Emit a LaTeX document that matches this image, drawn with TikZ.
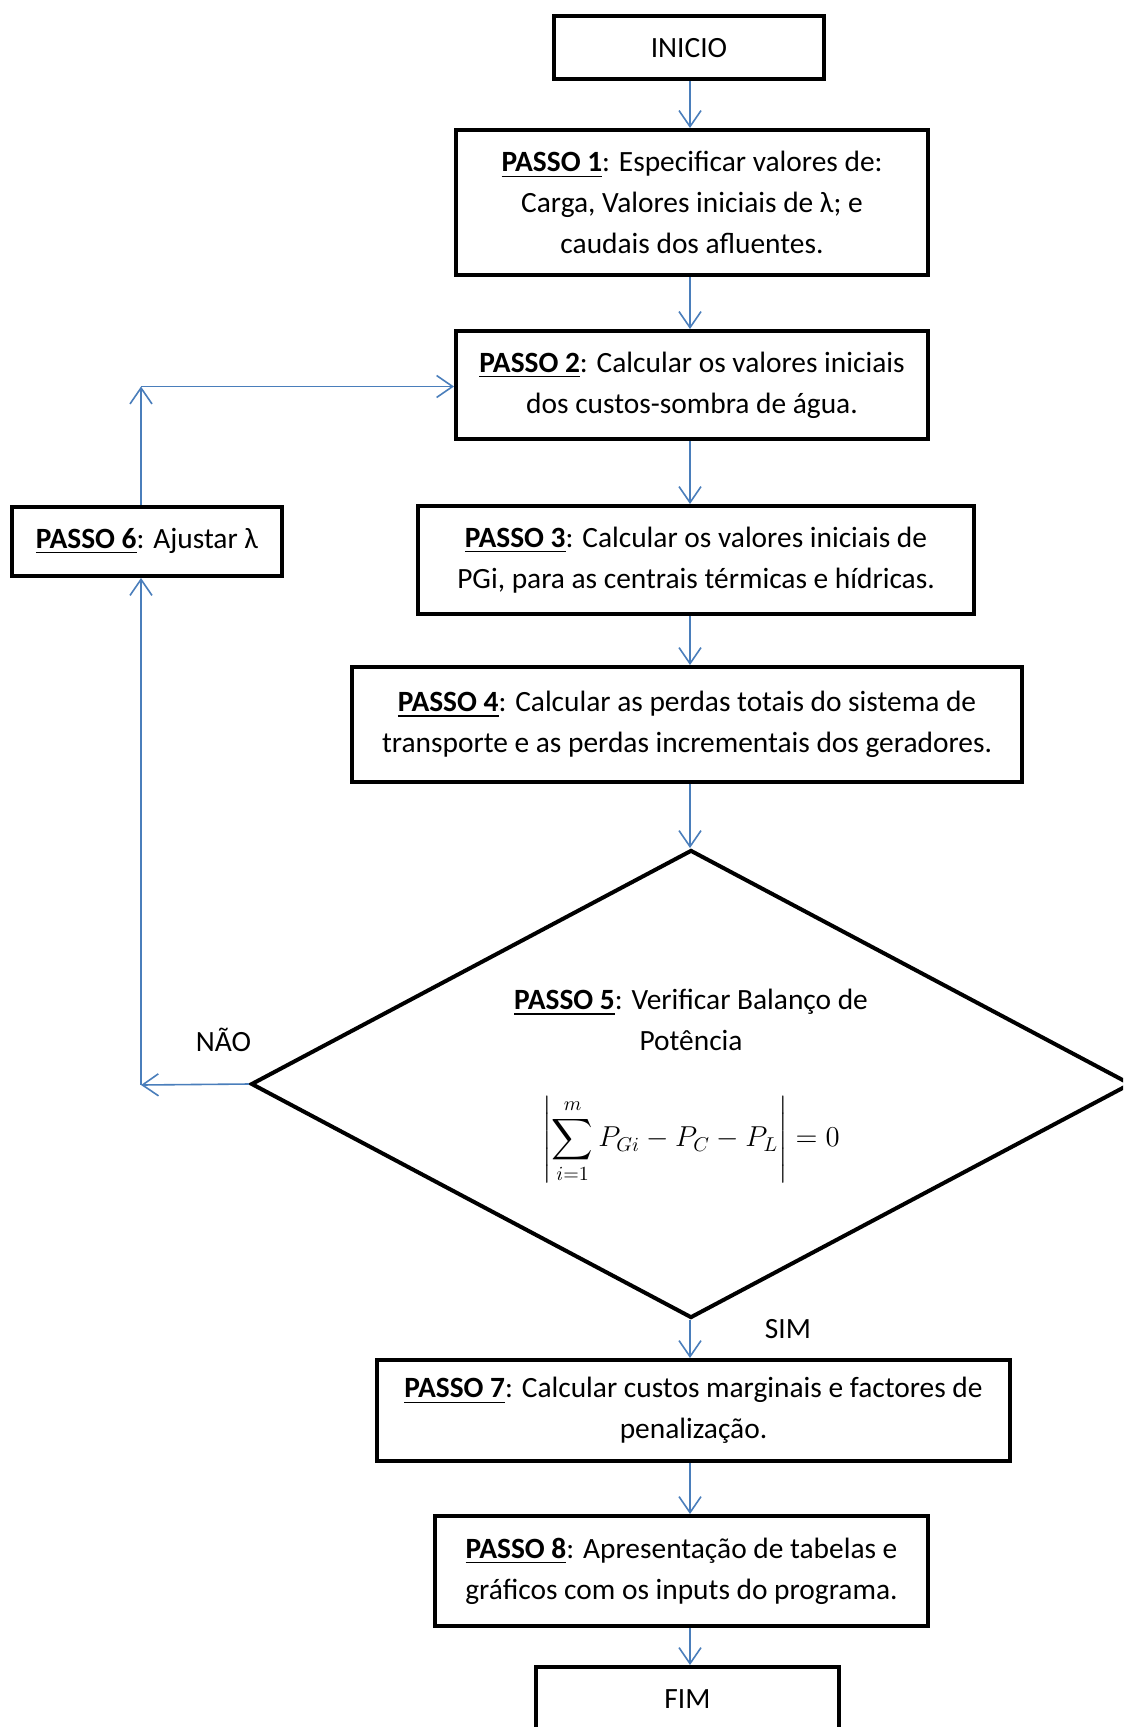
\RequirePackage{fix-cm}
\documentclass[tikz,border=0pt]{standalone}
\usepackage{exscale}
\usepackage{fontspec}
\setmainfont{Carlito}
\usetikzlibrary{arrows.meta,shapes.geometric}
\definecolor{arrowblue}{RGB}{74,126,187}
\tikzset{
  box/.style={draw=black, line width=2pt, rectangle, inner sep=0pt, align=center,
    font=\fontsize{14.7}{20.35}\selectfont},
  lbl/.style={inner sep=0pt, align=center, font=\fontsize{14.7}{20.35}\selectfont},
  arr/.style={draw=arrowblue, line width=0.8pt, -{Straight Barb[length=8pt,width=11pt]}},
}
\newcommand{\passo}[1]{\underline{\textbf{PASSO #1}}}
\begin{document}
\begin{tikzpicture}[x=0.5pt,y=-0.5pt]
\useasboundingbox (0,0) rectangle (1123,1727);
\clip (0,0) rectangle (1123,1727);
\coordinate (axis) at (690,0);
\node[box, minimum width=135pt, minimum height=31.25pt] (inicio) at (689,47.75) {INICIO};
\node[box, minimum width=236pt, minimum height=72.5pt] (p1) at (692,202.5)
  {\passo{1}: Especificar valores de:\\ Carga, Valores iniciais de λ; e\\ caudais dos afluentes.};
\node[box, minimum width=236pt, minimum height=54pt] (p2) at (692,385)
  {\passo{2}: Calcular os valores iniciais\\ dos custos-sombra de água.};
\node[box, minimum width=135pt, minimum height=34.5pt] (p6) at (147,541.5)
  {\passo{6}: Ajustar λ};
\node[box, minimum width=278pt, minimum height=54pt] (p3) at (696,560)
  {\passo{3}: Calcular os valores iniciais de\\ PGi, para as centrais térmicas e hídricas.};
\node[box, minimum width=335pt, minimum height=57.5pt] (p4) at (687,724.5)
  {\passo{4}: Calcular as perdas totais do sistema de\\ transporte e as perdas incrementais dos geradores.};
\node[draw=black, line width=2pt, diamond, inner sep=0pt, minimum width=440pt, minimum height=234pt] (d5) at (691,1084) {};
\node[lbl] (d5text) at (691,1020)
  {\passo{5}: Verificar Balanço de\\ Potência};
\node[lbl, font=\fontsize{14.4}{17}\selectfont] (d5math) at (691,1140)
  {$\displaystyle \left|\sum_{i=1}^{m} P_{Gi} - P_C - P_L\right| = 0$};
\node[box, minimum width=316.5pt, minimum height=50.5pt] (p7) at (693.5,1410.5)
  {\passo{7}: Calcular custos marginais e factores de\\ penalização.};
\node[box, minimum width=246.5pt, minimum height=55pt] (p8) at (681.5,1571)
  {\passo{8}: Apresentação de tabelas e\\ gráficos com os inputs do programa.};
\node[box, minimum width=151.5pt, minimum height=32.5pt] (fim) at (687.5,1699.5) {FIM};
\node[lbl] (nao) at (223.5,1040) {NÃO};
\node[lbl] (sim) at (788,1329) {SIM};
% vertical flow
\draw[arr] (inicio.south -| axis) -- (p1.north -| axis);
\draw[arr] (p1.south -| axis) -- (p2.north -| axis);
\draw[arr] (p2.south -| axis) -- (p3.north -| axis);
\draw[arr] (p3.south -| axis) -- (p4.north -| axis);
\draw[arr] (p4.south -| axis) -- (d5.north -| axis);
\draw[arr] (d5.south -| axis) -- (p7.north -| axis);
\draw[arr] (p7.south -| axis) -- (p8.north -| axis);
\draw[arr] (p8.south -| axis) -- (fim.north -| axis);
% loop
\coordinate (c1) at (141,1085);
\coordinate (c2) at (141,386.5);
\draw[arr] (d5.west) -- (c1);
\draw[arr] (c1) -- (p6.south -| c1);
\draw[arr] (p6.north -| c1) -- (c2);
\draw[arr] (c2) -- (p2.west |- c2);
\end{tikzpicture}
\end{document}
